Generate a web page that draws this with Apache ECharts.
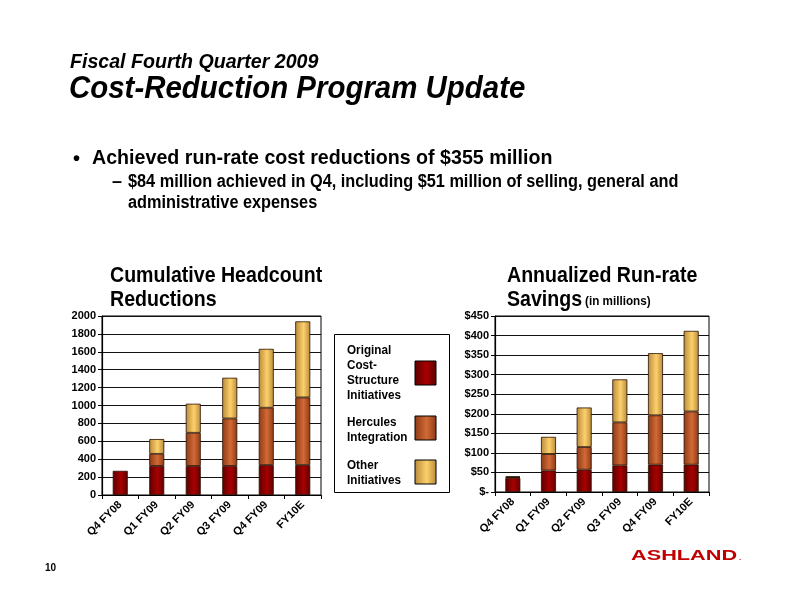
<!DOCTYPE html>
<html>
<head>
<meta charset="utf-8">
<script src="https://cdn.jsdelivr.net/npm/echarts@6/dist/echarts.min.js"></script>
<style>
html,body{margin:0;padding:0;background:#fff;}
#c{width:792px;height:612px;}
</style>
</head>
<body>
<div id="c"></div>
<script>
// ---- data ----
const categories = ['Q4 FY08', 'Q1 FY09', 'Q2 FY09', 'Q3 FY09', 'Q4 FY09', 'FY10E'];
const seriesNames = ['Original Cost-Structure Initiatives', 'Hercules Integration', 'Other Initiatives'];
// Cumulative headcount reductions
const headOriginal = [270, 325, 325, 325, 335, 335];
const headHercules = [null, 135, 370, 530, 640, 755];
const headOther    = [null, 165, 325, 455, 658, 850];
// Annualized run-rate savings ($ millions)
const savOriginal = [36, 55, 57, 68, 70, 70];
const savHercules = [2, 42, 58, 110, 126, 136];
const savOther    = [2, 44, 101, 110, 159, 206];
// tick settings
const headTicks = {min: 0, max: 2000, interval: 200};
const savTicks = {min: 0, max: 450, interval: 50};

const SANS = '"Liberation Sans", Arial, sans-serif';

function grad(edge, mid) {
  return new echarts.graphic.LinearGradient(0, 0, 1, 0, [
    {offset: 0, color: edge},
    {offset: 0.55, color: mid},
    {offset: 1, color: edge}
  ]);
}
const colOrig = () => grad('#5c0000', '#a80000');
const colHerc = () => grad('#8c3a16', '#d26a36');
const colOther = () => grad('#b98a3a', '#fdd06c');
const fills = [colOrig, colHerc, colOther];

function mkSeries(arrs, xi, stack) {
  return arrs.map((d, i) => ({
    name: seriesNames[i],
    type: 'bar',
    stack: stack,
    xAxisIndex: xi,
    yAxisIndex: xi,
    data: d,
    barWidth: 15,
    itemStyle: {color: fills[i](), borderColor: '#2a1000', borderWidth: 0.8},
    emphasis: {disabled: true},
    animation: false
  }));
}

const xAxisCommon = {
  type: 'category',
  data: categories,
  axisLine: {show: true, lineStyle: {color: '#000', width: 1.2}},
  axisTick: {show: true, alignWithLabel: false, length: 4, lineStyle: {color: '#000'}},
  axisLabel: {rotate: 45, interval: 0, color: '#000', fontWeight: 'bold', fontSize: 11, fontFamily: SANS, margin: 8}
};
const yAxisCommon = {
  type: 'value',
  axisLine: {show: true, lineStyle: {color: '#000', width: 1.2}},
  axisTick: {show: true, length: 4, lineStyle: {color: '#000'}},
  splitLine: {show: true, lineStyle: {color: '#111', width: 1.1}},
  axisLabel: {color: '#000', fontWeight: 'bold', fontSize: 11, fontFamily: SANS, margin: 6}
};

function txt(text, x, y, size, opts) {
  opts = opts || {};
  return {
    type: 'text',
    x: x, y: y,
    scaleX: opts.scaleX || 1,
    style: {
      text: text,
      fill: opts.fill || '#000',
      font: (opts.italic ? 'italic ' : '') + 'bold ' + size + 'px ' + SANS,
      textAlign: 'left',
      textVerticalAlign: 'bottom'
    },
    silent: true
  };
}
function line(text, x, baseline, size, opts) {
  return txt(text, x, baseline + Math.round(size * 0.21), size, opts);
}

const legendItems = [
  {lines: ['Original', 'Cost-', 'Structure', 'Initiatives'], y0: 354, sw: 361},
  {lines: ['Hercules', 'Integration'], y0: 426, sw: 416},
  {lines: ['Other', 'Initiatives'], y0: 469, sw: 460}
];
const legendGraphics = [{
  type: 'rect', shape: {x: 334.5, y: 334.5, width: 115, height: 158},
  style: {fill: '#fff', stroke: '#000', lineWidth: 1}, silent: true
}];
legendItems.forEach((it, i) => {
  it.lines.forEach((l, j) => legendGraphics.push(line(l, 347, it.y0 + j * 15, 13, {scaleX: 0.9})));
  legendGraphics.push({
    type: 'rect', shape: {x: 415, y: it.sw, width: 21, height: 24},
    style: {fill: fills[i](), stroke: '#000', lineWidth: 1}, silent: true
  });
});

const option = {
  backgroundColor: '#fff',
  animation: false,
  grid: [
    {left: 102, right: 471, top: 316, bottom: 117, show: true, borderColor: '#000', borderWidth: 1, backgroundColor: 'transparent'},
    {left: 495, right: 83, top: 316, bottom: 120, show: true, borderColor: '#000', borderWidth: 1, backgroundColor: 'transparent'}
  ],
  xAxis: [
    Object.assign({gridIndex: 0}, xAxisCommon),
    Object.assign({gridIndex: 1}, xAxisCommon)
  ],
  yAxis: [
    Object.assign({gridIndex: 0}, yAxisCommon, headTicks, {
      axisLabel: Object.assign({}, yAxisCommon.axisLabel, {formatter: v => String(v)})
    }),
    Object.assign({gridIndex: 1}, yAxisCommon, savTicks, {
      axisLabel: Object.assign({}, yAxisCommon.axisLabel, {formatter: v => v === 0 ? '$-' : '$' + v})
    })
  ],
  series: mkSeries([headOriginal, headHercules, headOther], 0, 'h')
    .concat(mkSeries([savOriginal, savHercules, savOther], 1, 's')),
  graphic: [
    line('Fiscal Fourth Quarter 2009', 70, 68, 20, {italic: true, scaleX: 0.98}),
    line('Cost-Reduction Program Update', 69, 98, 32, {italic: true, scaleX: 0.92}),
    line('\u2022', 73, 165, 20),
    line('Achieved run-rate cost reductions of $355 million', 92, 165, 21, {scaleX: 0.935}),
    line('\u2013', 112, 187, 18),
    line('$84 million achieved in Q4, including $51 million of selling, general and', 128, 187, 18, {scaleX: 0.905}),
    line('administrative expenses', 128, 208, 18, {scaleX: 0.905}),
    line('Cumulative Headcount', 110, 282, 22, {scaleX: 0.89}),
    line('Reductions', 110, 306, 22, {scaleX: 0.89}),
    line('Annualized Run-rate', 507, 282, 22, {scaleX: 0.89}),
    line('Savings', 507, 306, 22, {scaleX: 0.89}),
    line('(in millions)', 585, 305, 13, {scaleX: 0.9}),
    line('10', 45, 571, 10),
    line('ASHLAND', 631, 560, 14, {fill: '#c00000', scaleX: 1.55}),
    line('.', 739, 560, 8, {fill: '#c00000'})
  ].concat(legendGraphics)
};

const chart = echarts.init(document.getElementById('c'), null, {renderer: 'canvas'});
chart.setOption(option);
</script>
</body>
</html>
